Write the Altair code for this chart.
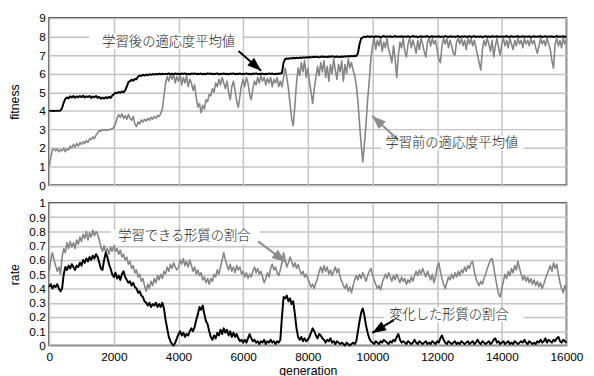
import altair as alt
import pandas as pd

# Population averages sampled every 50 generations (0 ... 16000)
FIT_AFTER = [
    4.0, 4.0, 4.01, 3.99, 4.0, 4.01, 4.0, 4.02, 4.15, 4.45, 4.65, 4.72, 4.68, 4.78, 4.72, 4.8, 4.7, 4.78, 4.73, 4.8,
    4.74, 4.82, 4.72, 4.78, 4.75, 4.8, 4.7, 4.77, 4.73, 4.8, 4.7, 4.75, 4.65, 4.72, 4.66, 4.74, 4.68, 4.76, 4.7, 4.82,
    4.9, 4.98, 4.95, 5.02, 4.97, 5.05, 5.0, 5.1, 5.3, 5.55, 5.6, 5.68, 5.62, 5.72, 5.7, 5.85, 5.9, 5.88, 5.95, 5.9,
    5.95, 5.92, 5.97, 5.94, 5.98, 5.95, 5.99, 5.96, 6.0, 5.97, 6.0, 5.98, 6.0, 5.98, 6.01, 5.99, 6.0, 5.98, 6.01, 5.99,
    6.0, 5.98, 6.01, 5.99, 6.02, 5.98, 6.0, 5.97, 6.01, 5.99, 6.02, 5.98, 6.0, 5.99, 6.01, 5.97, 6.0, 5.98, 6.02, 5.99,
    6.01, 5.98, 6.0, 5.99, 6.02, 5.97, 6.0, 5.99, 6.01, 5.98, 6.0, 5.97, 6.01, 5.99, 6.02, 5.98, 6.0, 5.99, 6.01, 5.98,
    6.0, 5.99, 6.02, 5.98, 6.0, 5.97, 6.01, 5.99, 6.02, 5.98, 6.0, 5.99, 6.01, 5.97, 6.0, 5.98, 6.02, 5.99, 6.01, 5.98,
    6.0, 5.99, 6.01, 6.0, 6.05, 6.6, 6.8, 6.82, 6.8, 6.84, 6.82, 6.85, 6.83, 6.86, 6.84, 6.87, 6.85, 6.88, 6.86, 6.89,
    6.87, 6.9, 6.88, 6.91, 6.89, 6.92, 6.9, 6.88, 6.91, 6.93, 6.9, 6.92, 6.89, 6.93, 6.91, 6.94, 6.92, 6.9, 6.93, 6.91,
    6.9, 6.93, 6.91, 6.94, 6.92, 6.95, 6.93, 6.96, 6.94, 6.97, 6.95, 7.1, 7.6, 7.9, 7.95, 8.0, 7.97, 8.02, 7.98, 8.0,
    8.0, 7.97, 8.02, 7.99, 8.01, 7.96, 8.0, 8.03, 7.98, 8.01, 7.99, 8.02, 7.97, 8.0, 8.03, 7.98, 8.01, 7.99, 8.02, 7.98,
    8.01, 7.98, 8.02, 7.97, 8.0, 8.03, 7.99, 8.01, 7.96, 8.0, 8.02, 7.98, 8.01, 7.99, 8.03, 7.97, 8.0, 8.02, 7.98, 8.01,
    7.99, 8.02, 7.97, 8.01, 7.98, 8.03, 8.0, 7.97, 8.02, 7.99, 8.01, 7.98, 8.0, 8.03, 7.97, 8.01, 7.99, 8.02, 7.98, 8.0,
    8.02, 7.98, 8.0, 8.03, 7.97, 8.01, 7.99, 8.02, 7.96, 8.0, 8.02, 7.99, 8.01, 7.97, 8.03, 7.99, 8.0, 8.02, 7.98, 8.01,
    7.98, 8.01, 7.99, 8.03, 7.97, 8.0, 8.02, 7.98, 8.01, 7.99, 8.03, 7.97, 8.0, 8.02, 7.98, 8.01, 7.99, 8.02, 7.97, 8.0,
    8.02, 7.98, 8.01, 7.99, 8.03, 7.97, 8.0, 8.02, 7.98, 8.01, 7.99, 8.02, 7.97, 8.0, 8.03, 7.98, 8.01, 7.99, 8.02, 7.98,
    8.0,
]

FIT_BEFORE = [
    1.0, 1.5, 1.9, 1.95, 1.85, 1.95, 1.8, 1.9, 1.85, 2.0, 1.8, 1.95, 1.9, 2.1, 2.0, 2.2, 2.05, 2.25, 2.1, 2.3,
    2.2, 2.35, 2.25, 2.4, 2.3, 2.5, 2.45, 2.6, 2.5, 2.7, 2.8, 2.95, 2.9, 3.0, 2.95, 3.0, 2.95, 3.0, 3.0, 3.05,
    3.1, 3.3, 3.6, 3.8, 3.65, 3.85, 3.6, 3.75, 3.55, 3.8, 3.6, 3.5, 3.7, 3.3, 3.15, 3.4, 3.3, 3.5, 3.4, 3.55,
    3.45, 3.6, 3.5, 3.65, 3.55, 3.7, 3.6, 3.75, 3.7, 3.85, 4.1, 4.8, 5.5, 5.85, 5.6, 5.95, 5.7, 6.0, 5.5, 5.85,
    5.6, 5.95, 5.4, 5.8, 5.5, 5.9, 5.3, 5.7, 5.5, 5.1, 5.4, 4.7, 4.2, 4.4, 3.9, 4.3, 4.1, 4.6, 4.5, 4.9,
    4.8, 5.2, 5.0, 5.5, 5.3, 5.7, 5.4, 5.8, 5.5, 5.2, 5.6, 5.0, 4.6, 5.3, 5.6, 5.1, 4.5, 4.2, 4.8, 5.4,
    5.7, 5.3, 5.8, 5.5, 4.9, 4.6, 5.2, 5.6, 5.4, 5.8, 5.5, 5.9, 5.6, 5.8, 5.4, 5.75, 5.5, 5.8, 5.3, 5.7,
    5.5, 5.8, 5.3, 5.6, 5.3, 5.8, 6.3, 5.8, 5.2, 4.4, 3.6, 3.2, 4.3, 5.5, 6.3, 5.9, 6.6, 6.1, 6.7, 5.8,
    6.3, 5.6, 5.0, 4.4, 5.2, 5.8, 6.4, 5.9, 6.6, 6.1, 6.7, 5.8, 6.4, 5.6, 6.5, 6.0, 6.8, 6.2, 5.7, 6.5,
    6.1, 6.7, 5.6, 6.5, 6.0, 6.8, 6.3, 6.6, 6.2, 5.9, 5.4, 4.5, 3.3, 2.2, 1.25, 2.2, 3.3, 4.6, 5.6, 6.8,
    7.5, 7.9, 7.3, 7.8, 7.5, 7.9, 7.2, 7.7, 7.4, 7.9, 7.3, 7.0, 6.6, 7.5, 6.8, 5.8, 7.0, 7.7, 7.4, 7.9,
    7.2, 6.9, 7.6, 7.9, 7.4, 7.8, 7.5, 7.1, 7.8, 7.3, 7.9, 7.6, 7.2, 6.9, 7.7, 7.9, 7.5, 7.9, 7.6, 7.8,
    7.3, 6.8, 6.6, 7.5, 7.9, 7.6, 7.9, 7.4, 7.8, 7.5, 7.1, 7.0, 7.7, 7.9, 7.6, 7.9, 7.5, 7.8, 7.3, 7.9,
    7.6, 7.9, 7.5, 7.8, 7.4, 7.0, 6.6, 6.2, 7.3, 7.8, 7.5, 7.9, 7.6, 7.2, 7.8, 6.9, 7.5, 7.9, 7.4, 7.0,
    7.6, 7.9, 7.5, 7.8, 7.4, 7.9, 7.6, 7.3, 7.8, 7.5, 7.9, 7.6, 7.8, 7.4, 7.9, 7.6, 7.8, 7.5, 7.9, 7.6,
    7.8, 7.4, 7.1, 7.5, 7.9, 7.6, 7.8, 7.5, 7.9, 7.6, 7.3, 6.7, 6.3, 7.6, 7.9, 7.5, 7.8, 7.4, 7.9, 7.6,
    7.8,
]

RATE_LEARNABLE = [
    .52, .60, .65, .60, .56, .52, .55, .50, .62, .68, .65, .72, .68, .73, .69, .72, .68, .74, .71, .76,
    .73, .78, .75, .80, .74, .79, .76, .81, .77, .80, .78, .74, .69, .66, .70, .65, .68, .64, .69, .66,
    .70, .66, .68, .64, .67, .62, .64, .60, .62, .57, .59, .54, .56, .51, .53, .48, .50, .45, .47, .42,
    .38, .43, .40, .45, .42, .47, .44, .49, .46, .50, .47, .52, .50, .55, .52, .57, .54, .58, .55, .53,
    .55, .60, .57, .61, .56, .59, .55, .60, .56, .52, .55, .50, .53, .49, .51, .46, .48, .44, .47, .43,
    .47, .45, .50, .48, .53, .50, .55, .60, .65, .60, .56, .53, .57, .52, .55, .51, .56, .53, .55, .50,
    .52, .48, .51, .47, .50, .48, .52, .55, .51, .54, .50, .52, .48, .44, .47, .51, .48, .54, .57, .53,
    .55, .51, .49, .53, .58, .65, .60, .55, .58, .62, .59, .55, .58, .54, .57, .53, .50, .52, .48, .50,
    .47, .44, .41, .43, .40, .44, .47, .52, .55, .51, .56, .52, .55, .50, .53, .49, .52, .55, .51, .54,
    .48, .45, .42, .40, .43, .38, .41, .37, .42, .46, .49, .46, .50, .47, .51, .48, .45, .49, .52, .54,
    .50, .46, .43, .40, .42, .39, .44, .47, .50, .47, .51, .48, .45, .49, .46, .50, .47, .44, .48, .45,
    .47, .43, .46, .44, .48, .45, .49, .52, .49, .53, .50, .54, .51, .48, .52, .49, .46, .50, .44, .48,
    .55, .58, .52, .47, .43, .40, .44, .48, .46, .50, .47, .51, .48, .52, .49, .53, .51, .55, .52, .56,
    .54, .58, .59, .52, .47, .44, .42, .45, .43, .47, .50, .54, .57, .60, .61, .55, .48, .42, .36, .34,
    .40, .45, .50, .47, .52, .49, .54, .51, .56, .53, .59, .54, .50, .46, .49, .45, .48, .44, .47, .43,
    .46, .42, .45, .41, .44, .40, .43, .47, .50, .53, .56, .52, .58, .54, .57, .50, .44, .40, .37, .42,
    .39,
]

RATE_CHANGED = [
    .41, .43, .40, .42, .41, .43, .40, .38, .40, .50, .55, .53, .56, .54, .57, .55, .53, .56, .55, .58,
    .56, .60, .58, .61, .59, .62, .60, .63, .61, .64, .62, .58, .54, .53, .60, .65, .62, .57, .54, .50,
    .48, .51, .47, .49, .46, .50, .52, .48, .46, .44, .45, .42, .44, .41, .40, .37, .38, .35, .34, .31,
    .30, .28, .30, .27, .29, .28, .30, .27, .29, .27, .30, .26, .18, .12, .06, .03, .01, .00, .02, .05,
    .08, .10, .07, .09, .06, .08, .07, .10, .12, .10, .13, .18, .22, .27, .25, .28, .22, .17, .15, .10,
    .06, .04, .07, .05, .09, .07, .11, .08, .12, .09, .11, .07, .10, .06, .09, .06, .08, .05, .03, .04,
    .02, .04, .02, .05, .08, .05, .03, .04, .02, .03, .01, .03, .02, .04, .01, .03, .02, .04, .02, .03,
    .01, .03, .02, .04, .20, .34, .33, .35, .31, .33, .29, .31, .22, .12, .06, .04, .06, .03, .05, .03,
    .04, .06, .09, .12, .10, .07, .05, .08, .07, .05, .04, .02, .04, .03, .05, .02, .03, .01, .03, .02,
    .01, .02, .01, .00, .02, .01, .00, .01, .02, .01, .03, .10, .17, .23, .26, .21, .14, .09, .05, .03,
    .02, .01, .03, .02, .01, .03, .02, .04, .03, .02, .01, .03, .02, .04, .03, .06, .08, .04, .02, .03,
    .02, .01, .03, .02, .01, .02, .04, .02, .01, .03, .02, .01, .02, .03, .01, .02, .01, .03, .02, .01,
    .03, .02, .05, .07, .04, .02, .01, .03, .02, .01, .02, .03, .01, .02, .01, .03, .02, .01, .02, .03,
    .01, .02, .03, .01, .02, .04, .02, .01, .03, .02, .01, .02, .03, .01, .02, .04, .05, .02, .03, .01,
    .02, .03, .01, .02, .03, .01, .02, .01, .03, .02, .01, .02, .03, .02, .04, .02, .01, .03, .02, .01,
    .02, .01, .03, .02, .04, .02, .03, .05, .02, .04, .03, .02, .04, .03, .05, .06, .03, .02, .04, .03,
    .02,
]

STEP = 50
GENERATIONS = [STEP * i for i in range(len(FIT_AFTER))]

GEN_TICKS = [0, 2000, 4000, 6000, 8000, 10000, 12000, 14000, 16000]
FIT_TICKS = [0, 1, 2, 3, 4, 5, 6, 7, 8, 9]
RATE_TICKS = [0, 0.1, 0.2, 0.3, 0.4, 0.5, 0.6, 0.7, 0.8, 0.9, 1]

# Callout labels (text, centre, white backing box) and their arrows
FIT_NOTE_TEXT = ["学習後の適応度平均値", "学習前の適応度平均値"]
FIT_NOTE_GEN = [3696, 12456]
FIT_NOTE_VAL = [7.70, 2.28]
FIT_BOX_GEN = [(1232, 5977), (10266, 14677)]
FIT_BOX_VAL = [(7.33, 8.17), (1.88, 2.67)]
FIT_ARROW_GEN = [(5856, 6555), (10783, 9992)]
FIT_ARROW_VAL = [(7.22, 6.16), (2.46, 3.73)]
FIT_ARROW_ANGLE = [131, 313]
FIT_ARROW_COLOR = ["#000000", "#8c8c8c"]

RATE_NOTE_TEXT = ["学習できる形質の割合", "変化した形質の割合"]
RATE_NOTE_GEN = [4183, 12365]
RATE_NOTE_VAL = [0.765, 0.216]
RATE_BOX_GEN = [(1901, 6525), (10357, 14677)]
RATE_BOX_VAL = [(0.710, 0.813), (0.163, 0.267)]
RATE_ARROW_GEN = [(6464, 7316), (10662, 9992)]
RATE_ARROW_VAL = [(0.730, 0.585), (0.178, 0.088)]
RATE_ARROW_ANGLE = [127, 239]
RATE_ARROW_COLOR = ["#8c8c8c", "#000000"]

# arrow head with its tip at the symbol origin, pointing up before rotation
ARROW_HEAD = "M0,0L0.75,2L-0.75,2Z"

JP_FONT = "Noto Sans CJK JP"
LATIN_FONT = "Liberation Sans"

series = pd.DataFrame({
    "gen": GENERATIONS,
    "after": FIT_AFTER,
    "before": FIT_BEFORE,
    "learnable": RATE_LEARNABLE,
    "changed": RATE_CHANGED,
})


def note_table(text, gen, val, box_gen, box_val):
    return pd.DataFrame({
        "label": text,
        "gen": gen,
        "val": val,
        "g0": [b[0] for b in box_gen],
        "g1": [b[1] for b in box_gen],
        "v0": [b[0] for b in box_val],
        "v1": [b[1] for b in box_val],
    })


def arrow_table(gens, vals, angles, colors):
    return pd.DataFrame({
        "g0": [g[0] for g in gens],
        "g1": [g[1] for g in gens],
        "v0": [v[0] for v in vals],
        "v1": [v[1] for v in vals],
        "ang": angles,
        "col": colors,
    })


def panel(cols, colors, widths, ticks, domain, ytitle, fmt, notes, arrows,
          xlabels, xtitle, height):
    def X(field):
        return alt.X(
            f"{field}:Q",
            scale=alt.Scale(domain=[0, 16000], nice=False, zero=False),
            axis=alt.Axis(values=GEN_TICKS, format="d", labels=xlabels,
                          ticks=False, domain=False, grid=True,
                          labelFlush=False, labelPadding=6,
                          title=xtitle, titlePadding=3),
        )

    def Y(field):
        return alt.Y(
            f"{field}:Q",
            scale=alt.Scale(domain=domain, nice=False, zero=False),
            axis=alt.Axis(values=ticks, format=fmt, ticks=False,
                          domain=False, grid=True, labelPadding=4,
                          minExtent=22, maxExtent=22,
                          title=ytitle, titlePadding=6),
        )

    boxes = alt.Chart(notes).mark_rect(fill="white").encode(
        x=X("g0"), x2=alt.X2("g1:Q"), y=Y("v0"), y2=alt.Y2("v1:Q"))
    lines = [
        alt.Chart(series).mark_line(color=c, strokeWidth=w,
                                    strokeJoin="round").encode(
            x=X("gen"), y=Y(col))
        for col, c, w in zip(cols, colors, widths)
    ]
    shafts = alt.Chart(arrows).mark_rule(strokeWidth=2).encode(
        x=X("g0"), x2=alt.X2("g1:Q"), y=Y("v0"), y2=alt.Y2("v1:Q"),
        color=alt.Color("col:N", scale=None))
    heads = alt.Chart(arrows).mark_point(
        shape=ARROW_HEAD, filled=True, size=196, opacity=1, strokeWidth=0
    ).encode(
        x=X("g1"), y=Y("v1"),
        angle=alt.Angle("ang:Q", scale=None),
        color=alt.Color("col:N", scale=None))
    labels = alt.Chart(notes).mark_text(
        font=JP_FONT, fontSize=13.5, fontWeight=300, color="#1a1a1a",
        align="center", baseline="middle"
    ).encode(x=X("gen"), y=Y("val"), text="label:N")

    return alt.layer(boxes, *lines, shafts, heads, labels).properties(
        width=526, height=height)


fitness = panel(
    ["before", "after"], ["#858585", "#000000"], [1.6, 2.0],
    FIT_TICKS, [0, 9], "fitness", "d",
    note_table(FIT_NOTE_TEXT, FIT_NOTE_GEN, FIT_NOTE_VAL, FIT_BOX_GEN, FIT_BOX_VAL),
    arrow_table(FIT_ARROW_GEN, FIT_ARROW_VAL, FIT_ARROW_ANGLE, FIT_ARROW_COLOR),
    False, "", 170,
)

rate = panel(
    ["learnable", "changed"], ["#858585", "#000000"], [1.6, 2.0],
    RATE_TICKS, [0, 1], "rate", "~g",
    note_table(RATE_NOTE_TEXT, RATE_NOTE_GEN, RATE_NOTE_VAL, RATE_BOX_GEN, RATE_BOX_VAL),
    arrow_table(RATE_ARROW_GEN, RATE_ARROW_VAL, RATE_ARROW_ANGLE, RATE_ARROW_COLOR),
    True, "generation", 145,
)

chart = alt.vconcat(fitness, rate, spacing=4).properties(
    padding={"left": 8, "top": 8, "right": 10, "bottom": 10},
    background="white",
).configure_view(
    stroke="black", strokeWidth=1.5
).configure_axis(
    gridColor="#c4c4c4", gridWidth=1.5,
    labelFont=LATIN_FONT, labelFontSize=12, labelColor="black",
    titleFont=LATIN_FONT, titleFontSize=12.5, titleFontWeight="normal",
    titleColor="black",
)

chart.save("out.html", embed_options={"renderer": "svg", "actions": False})
